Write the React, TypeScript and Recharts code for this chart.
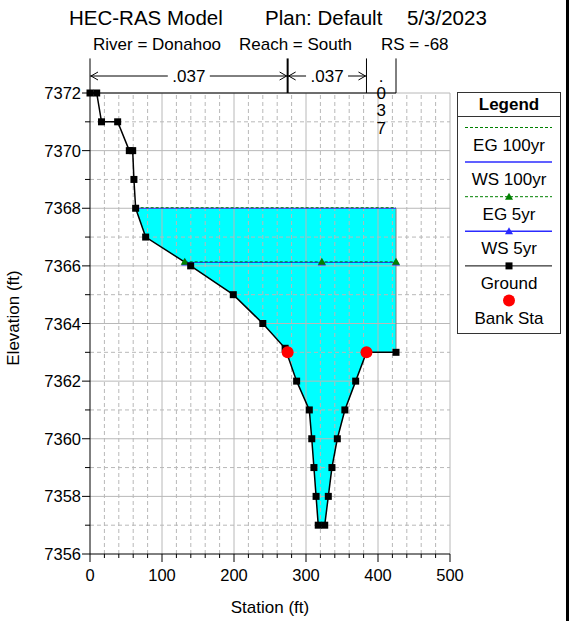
import React from 'react';
import { ComposedChart, Line, Area, XAxis, YAxis, ReferenceLine } from 'recharts';

const FONT = '"Liberation Sans", Arial, sans-serif';

// ground profile (station ft, elevation ft)
const groundSta = [0, 9.3, 16, 38.4, 54.6, 59.3, 61, 63.4, 77.3, 139.8, 199, 240, 271, 287, 304.6, 308, 311, 314, 317, 326, 331, 336, 343.5, 354, 369, 384, 425];
const groundElev = [7372, 7372, 7371, 7371, 7370, 7370, 7369, 7368, 7367, 7366, 7365, 7364, 7363.14, 7362, 7361, 7360, 7359, 7358, 7357, 7357, 7358, 7359, 7360, 7361, 7362, 7363, 7363];

// water surfaces / energy grades
const ws100Elev = 7368;
const eg100Elev = 7368.02;
const ws5Elev = 7366.12;
const eg5Elev = 7366.14;
const ws100Sta = [63.4, 425];
const eg100Sta = [63.4, 425];
const ws5Sta = [132.3, 322, 425];
const eg5Sta = [131.5, 322, 425];

// bank stations
const bankSta = [274.5, 384];
const bankElev = [7363, 7363];

// Manning's n regions
const nSta = [0, 274.5, 384, 425];
const nLabels = ['.037', '.037', '.037'];
const nBandTop = 7373.2;
const nArrowElev = 7372.59;

const xTicks = [0, 20, 40, 60, 80, 100, 120, 140, 160, 180, 200, 220, 240, 260, 280, 300, 320, 340, 360, 380, 400, 420, 440, 460, 480, 500];
const yTicks = [7356, 7357, 7358, 7359, 7360, 7361, 7362, 7363, 7364, 7365, 7366, 7367, 7368, 7369, 7370, 7371, 7372];

const groundData = groundSta.map((s, i) => ({ sta: s, elev: groundElev[i] }));
const fillData = groundData.filter((d) => d.sta >= ws100Sta[0]).map((d) => ({ sta: d.sta, range: [d.elev, ws100Elev] }));
const ws100Data = ws100Sta.map((s) => ({ sta: s, elev: ws100Elev }));
const eg100Data = eg100Sta.map((s) => ({ sta: s, elev: eg100Elev }));
const ws5Data = ws5Sta.map((s) => ({ sta: s, elev: ws5Elev }));
const eg5Data = eg5Sta.map((s) => ({ sta: s, elev: eg5Elev }));
const bankData = bankSta.map((s, i) => ({ sta: s, elev: bankElev[i] }));

const GREEN = '#008000';
const BLUE = '#2b2bff';
const GRID = '#b8b8b8';

const XTick = (props: any) => {
  const { x, y, payload } = props;
  const major = payload.value % 100 === 0;
  return (
    <g>
      <line x1={x} x2={x} y1={y} y2={y + (major ? 8 : 4)} stroke="#000" />
      {major && (
        <text x={x} y={y + 21} textAnchor="middle" dominantBaseline="central" fontSize={16.5} fontFamily={FONT} fill="#000">
          {payload.value}
        </text>
      )}
    </g>
  );
};

const YTick = (props: any) => {
  const { x, y, payload } = props;
  const major = payload.value % 2 === 0;
  return (
    <g>
      <line x1={x} x2={x - (major ? 8 : 5)} y1={y} y2={y} stroke="#000" />
      {major && (
        <text x={x - 9} y={y} textAnchor="end" dominantBaseline="central" fontSize={16.5} fontFamily={FONT} fill="#000">
          {payload.value}
        </text>
      )}
    </g>
  );
};

const Square = (props: any) => {
  const { cx, cy, index } = props;
  return <rect key={index} x={cx - 3.5} y={cy - 3.5} width={7} height={7} fill="#000" />;
};

const Triangle = (color: string) => (props: any) => {
  const { cx, cy, index } = props;
  return <polygon key={index} points={`${cx - 4},${cy + 3} ${cx + 4},${cy + 3} ${cx},${cy - 4}`} fill={color} />;
};

const BankDot = (props: any) => {
  const { cx, cy, index } = props;
  return <circle key={index} cx={cx} cy={cy} r={6} fill="#ff0000" />;
};

const NArrow = (props: any) => {
  const { x1, x2, y1, text } = props;
  const w = x2 - x1;
  if (w < 45) {
    const cx = (x1 + x2) / 2;
    return (
      <g>
        {text.split('').map((c: string, i: number) => (
          <text key={i} x={cx} y={y1 + i * 17.4} textAnchor="middle" dominantBaseline="central" fontSize={17} fontFamily={FONT} fill="#000">
            {c}
          </text>
        ))}
      </g>
    );
  }
  const mid = (x1 + x2) / 2;
  return (
    <g>
      <line x1={x1} y1={y1} x2={mid - 21} y2={y1} stroke="#000" />
      <line x1={mid + 21} y1={y1} x2={x2} y2={y1} stroke="#000" />
      <polyline points={`${x1 + 8},${y1 - 4} ${x1 + 1},${y1} ${x1 + 8},${y1 + 4}`} stroke="#000" fill="none" />
      <polyline points={`${x2 - 8},${y1 - 4} ${x2 - 1},${y1} ${x2 - 8},${y1 + 4}`} stroke="#000" fill="none" />
      <text x={mid} y={y1} textAnchor="middle" dominantBaseline="central" fontSize={17} fontFamily={FONT} fill="#000">
        {text}
      </text>
    </g>
  );
};

const legendItems = [
  { label: 'EG 100yr', color: GREEN, dash: '3 2', marker: '' },
  { label: 'WS 100yr', color: BLUE, dash: undefined, marker: '' },
  { label: 'EG 5yr', color: GREEN, dash: '3 2', marker: 'tri' },
  { label: 'WS 5yr', color: BLUE, dash: undefined, marker: 'tri' },
  { label: 'Ground', color: '#000', dash: undefined, marker: 'sq' },
  { label: 'Bank Sta', color: '#ff0000', dash: undefined, marker: 'dot' },
];

const App: React.FC = () => {
  return (
    <div style={{ position: 'absolute', left: 0, top: 0, width: 571, height: 621, background: '#fff', fontFamily: FONT }}>
      <ComposedChart width={571} height={621} margin={{ top: 93, right: 121, bottom: 37, left: 30 }}>
        <XAxis
          type="number"
          dataKey="sta"
          domain={[0, 500]}
          ticks={xTicks}
          interval={0}
          height={30}
          tickSize={0}
          tickMargin={0}
          tickLine={false}
          axisLine={{ stroke: '#000' }}
          tick={<XTick />}
        />
        <YAxis
          type="number"
          domain={[7356, 7372]}
          ticks={yTicks}
          interval={0}
          width={60}
          tickSize={0}
          tickMargin={0}
          tickLine={false}
          axisLine={{ stroke: '#000' }}
          tick={<YTick />}
        />

        {xTicks.filter((t) => t > 0).map((t) => (
          <ReferenceLine key={'gx' + t} x={t} stroke={GRID} strokeDasharray={t % 100 === 0 ? undefined : '4 3'} />
        ))}
        {yTicks.filter((t) => t > 7356).map((t) => (
          <ReferenceLine key={'gy' + t} y={t} stroke={GRID} strokeDasharray={t % 2 === 0 ? undefined : '4 3'} />
        ))}

        <Area
          data={fillData}
          dataKey="range"
          type="linear"
          fill="#00ffff"
          fillOpacity={1}
          stroke="none"
          isAnimationActive={false}
          activeDot={false}
        />
        <ReferenceLine
          segment={[{ x: groundSta[groundSta.length - 1], y: groundElev[groundElev.length - 1] }, { x: groundSta[groundSta.length - 1], y: ws100Elev }]}
          stroke="#808080"
        />

        <Line data={ws100Data} dataKey="elev" type="linear" stroke={BLUE} strokeWidth={1} dot={false} isAnimationActive={false} />
        <Line data={eg100Data} dataKey="elev" type="linear" stroke={GREEN} strokeDasharray="3 2" strokeWidth={1} dot={false} isAnimationActive={false} />
        <Line data={ws5Data} dataKey="elev" type="linear" stroke={BLUE} strokeWidth={1} dot={Triangle(BLUE)} isAnimationActive={false} />
        <Line data={eg5Data} dataKey="elev" type="linear" stroke={GREEN} strokeDasharray="3 2" strokeWidth={1} dot={Triangle(GREEN)} isAnimationActive={false} />

        <Line data={groundData} dataKey="elev" type="linear" stroke="#000" strokeWidth={1.5} dot={<Square />} isAnimationActive={false} />
        <Line data={bankData} dataKey="elev" type="linear" stroke="none" dot={<BankDot />} isAnimationActive={false} />

        {/* Manning's n band above the plot */}
        <ReferenceLine segment={[{ x: nSta[0], y: 7372 }, { x: nSta[nSta.length - 1], y: 7372 }]} stroke="#000" ifOverflow="visible" />
        {nSta.map((s, i) => (
          <ReferenceLine
            key={'nv' + i}
            segment={[{ x: s, y: 7372 }, { x: s, y: nBandTop }]}
            stroke="#000"
            strokeWidth={i === 1 ? 2 : 1}
            ifOverflow="visible"
          />
        ))}
        {nLabels.map((lab, i) => (
          <ReferenceLine
            key={'na' + i}
            segment={[{ x: nSta[i], y: nArrowElev }, { x: nSta[i + 1], y: nArrowElev }]}
            ifOverflow="visible"
            shape={(p: any) => <NArrow {...p} text={lab} />}
          />
        ))}
      </ComposedChart>

      <svg width={571} height={621} style={{ position: 'absolute', left: 0, top: 0, pointerEvents: 'none' }}>
        <g fontFamily={FONT} fill="#000">
          <text x={69} y={25} fontSize={20.5}>HEC-RAS Model</text>
          <text x={265} y={25} fontSize={20.5}>Plan: Default</text>
          <text x={407} y={25} fontSize={20.5}>5/3/2023</text>
          <text x={93} y={50} fontSize={17}>River = Donahoo</text>
          <text x={239} y={50} fontSize={17}>Reach = South</text>
          <text x={381} y={50} fontSize={17}>RS = -68</text>
          <text x={270} y={607} fontSize={17} textAnchor="middle" dominantBaseline="central">Station (ft)</text>
          <text x={13} y={318} fontSize={17} textAnchor="middle" dominantBaseline="central" transform="rotate(-90 13 318)">Elevation (ft)</text>
        </g>

        <rect x={457.5} y={92.5} width={103} height={241} fill="none" stroke="#333" />
        <line x1={457.5} x2={560.5} y1={116.5} y2={116.5} stroke="#333" />
        <text x={509} y={104} fontFamily={FONT} fontSize={17} fontWeight="bold" textAnchor="middle" dominantBaseline="central">Legend</text>
        {legendItems.map((it, i) => {
          const ly = 127.5 + i * 34.6;
          const ty = ly + 17.5;
          return (
            <g key={it.label}>
              {it.marker !== 'dot' && (
                <line x1={465} x2={552} y1={ly} y2={ly} stroke={it.color} strokeDasharray={it.dash} strokeWidth={it.color === BLUE ? 1.5 : 1} />
              )}
              {it.marker === 'tri' && <polygon points={`${505},${ly + 3} ${513},${ly + 3} ${509},${ly - 4}`} fill={it.color} />}
              {it.marker === 'sq' && <rect x={505.5} y={ly - 3.5} width={7} height={7} fill="#000" />}
              {it.marker === 'dot' && <circle cx={509} cy={ly} r={6} fill="#ff0000" />}
              <text x={509} y={ty} fontFamily={FONT} fontSize={17} textAnchor="middle" dominantBaseline="central" fill="#000">
                {it.label}
              </text>
            </g>
          );
        })}

        <rect x={566} y={0} width={3} height={621} fill="#000" />
      </svg>
    </div>
  );
};

export default App;
